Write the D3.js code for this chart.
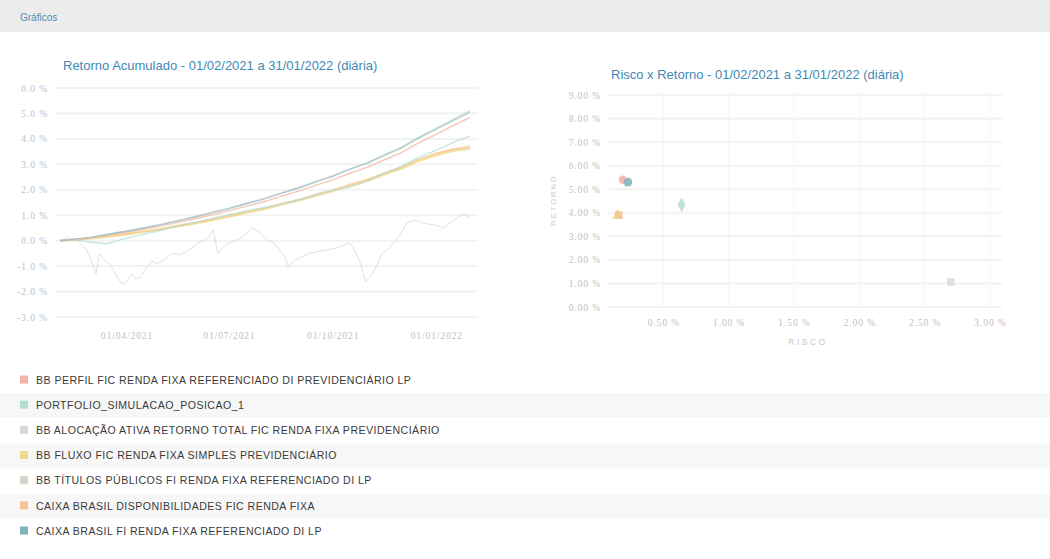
<!DOCTYPE html>
<html lang="pt">
<head>
    <meta charset="UTF-8">
    <title>Gráficos</title>
    <script src="https://d3js.org/d3.v7.min.js"></script>
    <style>
        body {
            margin: 0;
            background: #fff;
            font-family: "Liberation Sans", Arial, sans-serif;
        }
        svg { display: block; }
    </style>
</head>
<body>
<svg width="1050" height="559"></svg>
<script>
    // ---- data ----
    const fundNames = [
        "BB PERFIL FIC RENDA FIXA REFERENCIADO DI PREVIDENCIÁRIO LP",
        "PORTFOLIO_SIMULACAO_POSICAO_1",
        "BB ALOCAÇÃO ATIVA RETORNO TOTAL FIC RENDA FIXA PREVIDENCIÁRIO",
        "BB FLUXO FIC RENDA FIXA SIMPLES PREVIDENCIÁRIO",
        "BB TÍTULOS PÚBLICOS FI RENDA FIXA REFERENCIADO DI LP",
        "CAIXA BRASIL DISPONIBILIDADES FIC RENDA FIXA",
        "CAIXA BRASIL FI RENDA FIXA REFERENCIADO DI LP"
    ];
    const fundColors = ["#f3b3a4", "#b4ddd3", "#d9d9dd", "#f2d98a", "#cfd6c8", "#f6c293", "#7fb2bd"];
    const fundSymbols = ["circle", "diamond", "square", "triangle", "triangle-down", "square", "circle"];

    // semi-monthly dates for the smooth series
    const smoothDates = ["2021-02-01","2021-02-15","2021-03-01","2021-03-15","2021-04-01","2021-04-15",
        "2021-05-01","2021-05-15","2021-06-01","2021-06-15","2021-07-01","2021-07-15","2021-08-01",
        "2021-08-15","2021-09-01","2021-09-15","2021-10-01","2021-10-15","2021-11-01","2021-11-15",
        "2021-12-01","2021-12-15","2022-01-01","2022-01-15","2022-01-31"];

    const bbPerfil    = [0, 0.05, 0.12, 0.21, 0.33, 0.44, 0.57, 0.70, 0.86, 1.01, 1.18, 1.34, 1.53, 1.73, 1.95, 2.16, 2.39, 2.63, 2.89, 3.16, 3.46, 3.81, 4.18, 4.50, 4.85];
    const portfolio   = [0, 0.02, -0.06, -0.12, 0.10, 0.24, 0.40, 0.55, 0.72, 0.86, 1.02, 1.16, 1.30, 1.40, 1.60, 1.80, 1.98, 2.10, 2.34, 2.62, 2.92, 3.24, 3.56, 3.84, 4.12];
    const bbFluxo     = [0, 0.04, 0.09, 0.16, 0.25, 0.34, 0.44, 0.55, 0.68, 0.80, 0.94, 1.08, 1.24, 1.40, 1.58, 1.75, 1.94, 2.14, 2.36, 2.58, 2.83, 3.11, 3.36, 3.52, 3.62];
    const bbTitulos   = [0, 0.05, 0.13, 0.25, 0.38, 0.50, 0.64, 0.78, 0.95, 1.11, 1.28, 1.45, 1.66, 1.86, 2.09, 2.31, 2.55, 2.80, 3.07, 3.36, 3.67, 4.03, 4.42, 4.75, 5.12];
    const caixaDisp   = [0, 0.04, 0.10, 0.17, 0.26, 0.35, 0.46, 0.57, 0.70, 0.82, 0.97, 1.11, 1.27, 1.43, 1.61, 1.79, 1.98, 2.18, 2.40, 2.63, 2.88, 3.16, 3.42, 3.58, 3.70];
    const caixaDiLp   = [0, 0.06, 0.14, 0.24, 0.37, 0.48, 0.62, 0.76, 0.93, 1.08, 1.26, 1.43, 1.63, 1.84, 2.07, 2.29, 2.53, 2.78, 3.05, 3.33, 3.64, 4.00, 4.38, 4.70, 5.05];

    // the volatile fund, traced point by point
    const ativaDates = ["2021-02-01","2021-02-05","2021-02-08","2021-02-11","2021-02-15","2021-02-19","2021-02-24",
        "2021-02-28","2021-03-05","2021-03-08","2021-03-12","2021-03-17","2021-03-21","2021-03-26","2021-03-30",
        "2021-04-02","2021-04-06","2021-04-09","2021-04-13","2021-04-19","2021-04-24","2021-04-28","2021-05-03",
        "2021-05-07","2021-05-12","2021-05-18","2021-05-25","2021-05-29","2021-06-03","2021-06-08","2021-06-12",
        "2021-06-17","2021-06-21","2021-06-25","2021-06-30","2021-07-05","2021-07-11","2021-07-16","2021-07-21",
        "2021-07-28","2021-08-01","2021-08-05","2021-08-10","2021-08-14","2021-08-19","2021-08-23","2021-08-27",
        "2021-09-01","2021-09-05","2021-09-10","2021-09-15","2021-09-21","2021-09-27","2021-10-03","2021-10-09",
        "2021-10-16","2021-10-20","2021-10-25","2021-10-30","2021-11-02","2021-11-05","2021-11-10","2021-11-14",
        "2021-11-20","2021-11-26","2021-12-01","2021-12-05","2021-12-09","2021-12-14","2021-12-20","2021-12-26",
        "2022-01-01","2022-01-07","2022-01-12","2022-01-16","2022-01-20","2022-01-25","2022-01-31"];
    const bbAtiva = [0, 0.08, 0.15, 0.05, 0.1, -0.1, -0.3, -0.7, -1.3, -0.5, -0.75, -0.9, -1.2, -1.6, -1.7,
        -1.55, -1.3, -1.5, -1.45, -1.05, -0.8, -0.9, -0.8, -0.65, -0.5, -0.55, -0.4, -0.3, -0.1, 0.0, 0.1,
        0.4, -0.5, -0.3, -0.1, -0.05, 0.1, 0.25, 0.5, 0.35, 0.15, 0.0, -0.1, -0.3, -0.6, -1.05, -0.8,
        -0.7, -0.6, -0.5, -0.45, -0.4, -0.35, -0.3, -0.2, -0.1, -0.35, -0.8, -1.6, -1.45, -1.3, -0.9, -0.5,
        -0.3, 0.0, 0.3, 0.65, 0.75, 0.8, 0.7, 0.65, 0.6, 0.5, 0.65, 0.8, 0.9, 1.05, 0.9];

    const lineTicksY = [6, 5, 4, 3, 2, 1, 0, -1, -2, -3];
    const lineTicksX = ["2021-04-01", "2021-07-01", "2021-10-01", "2022-01-01"];

    // risk x return (risk %, return %)
    const riskValues   = [0.19, 0.64, 2.70, 0.15, 0.21, 0.16, 0.23];
    const returnValues = [5.40, 4.34, 1.06, 3.88, 5.35, 3.91, 5.30];
    const scatterTicksY = [9, 8, 7, 6, 5, 4, 3, 2, 1, 0];
    const scatterTicksX = [0.5, 1.0, 1.5, 2.0, 2.5, 3.0];

    const svg = d3.select("svg");
    const parse = d3.timeParse("%Y-%m-%d");

    function styleTicks(sel) {
        sel.selectAll("text")
            .attr("fill", "#c0c0c0")
            .attr("font-size", 9.5)
            .attr("letter-spacing", 0.9)
            .attr("font-family", "'Liberation Serif', serif");
    }

    // ---- page background ----
    svg.append("rect").attr("x", 0).attr("y", 0).attr("width", 1050).attr("height", 32).attr("fill", "#ececec");
    svg.append("text").attr("x", 20).attr("y", 21).attr("font-size", 10).attr("fill", "#4b8fb3").text("Gráficos");

    // ---- line chart ----
    const x1 = d3.scaleTime().domain([parse("2021-02-01"), parse("2022-02-07")]).range([60, 478]);
    const y1 = d3.scaleLinear().domain([-3, 6]).range([317, 88]);

    svg.append("text").attr("x", 63).attr("y", 70).attr("font-size", 13).attr("fill", "#3f8ab4")
        .text("Retorno Acumulado - 01/02/2021 a 31/01/2022 (diária)");

    const g1 = svg.append("g");
    g1.selectAll("line.grid").data(lineTicksY).join("line")
        .attr("x1", 56).attr("x2", 478)
        .attr("y1", d => y1(d)).attr("y2", d => y1(d))
        .attr("stroke", "#f2f2f2").attr("stroke-width", 2);

    g1.append("g").attr("transform", "translate(48,0)")
        .call(d3.axisLeft(y1).tickValues(lineTicksY).tickSize(0).tickPadding(0)
            .tickFormat(d => d.toFixed(1) + " %"))
        .call(g => g.select(".domain").remove())
        .call(styleTicks);

    g1.append("g").attr("transform", "translate(0,332)")
        .call(d3.axisBottom(x1).tickValues(lineTicksX.map(parse)).tickSize(0).tickPadding(0)
            .tickFormat(d3.timeFormat("%d/%m/%Y")))
        .call(g => g.select(".domain").remove())
        .call(styleTicks);

    const line = d3.line().x(d => x1(d[0])).y(d => y1(d[1]));
    const smoothSeries = [
        { vals: bbAtiva, dates: ativaDates, i: 2 },
        { vals: caixaDisp, dates: smoothDates, i: 5 },
        { vals: bbFluxo, dates: smoothDates, i: 3 },
        { vals: portfolio, dates: smoothDates, i: 1 },
        { vals: bbPerfil, dates: smoothDates, i: 0 },
        { vals: bbTitulos, dates: smoothDates, i: 4 },
        { vals: caixaDiLp, dates: smoothDates, i: 6 }
    ];
    g1.selectAll("path.series").data(smoothSeries).join("path")
        .attr("class", "series")
        .attr("fill", "none")
        .attr("stroke", d => fundColors[d.i])
        .attr("stroke-width", d => d.i === 5 || d.i === 3 ? 2.2 : (d.i === 2 ? 1 : 1.4))
        .attr("stroke-opacity", d => d.i === 6 ? 0.55 : (d.i === 2 ? 0.8 : 0.75))
        .attr("d", d => line(d.dates.map((t, k) => [parse(t), d.vals[k]])));

    // ---- scatter chart ----
    const x2 = d3.scaleLinear().domain([0, 3]).range([598, 990]);
    const y2 = d3.scaleLinear().domain([0, 9]).range([307, 95]);

    svg.append("text").attr("x", 611).attr("y", 79).attr("font-size", 13).attr("fill", "#3f8ab4")
        .text("Risco x Retorno - 01/02/2021 a 31/01/2022 (diária)");

    const g2 = svg.append("g");
    g2.selectAll("line.gy").data(scatterTicksY).join("line")
        .attr("x1", 608).attr("x2", 1002)
        .attr("y1", d => y2(d)).attr("y2", d => y2(d))
        .attr("stroke", "#f2f2f2").attr("stroke-width", 2);
    g2.selectAll("line.gx").data(scatterTicksX).join("line")
        .attr("y1", 92).attr("y2", 310)
        .attr("x1", d => x2(d)).attr("x2", d => x2(d))
        .attr("stroke", "#f6f6f6").attr("stroke-width", 1);

    g2.append("g").attr("transform", "translate(601,0)")
        .call(d3.axisLeft(y2).tickValues(scatterTicksY).tickSize(0).tickPadding(0)
            .tickFormat(d => d.toFixed(2) + " %"))
        .call(g => g.select(".domain").remove())
        .call(styleTicks);

    g2.append("g").attr("transform", "translate(0,319)")
        .call(d3.axisBottom(x2).tickValues(scatterTicksX).tickSize(0).tickPadding(0)
            .tickFormat(d => d.toFixed(2) + " %"))
        .call(g => g.select(".domain").remove())
        .call(styleTicks);

    svg.append("text").attr("x", 808).attr("y", 345).attr("text-anchor", "middle")
        .attr("font-size", 8.5).attr("letter-spacing", 2.5).attr("fill", "#c6c6c6").text("RISCO");
    svg.append("text").attr("transform", "translate(556,200) rotate(-90)").attr("text-anchor", "middle")
        .attr("font-size", 7.5).attr("letter-spacing", 2).attr("fill", "#cccccc").text("RETORNO");

    const symbolType = {
        "circle": d3.symbolCircle, "diamond": d3.symbolDiamond, "square": d3.symbolSquare,
        "triangle": d3.symbolTriangle, "triangle-down": d3.symbolTriangle
    };
    const order = [3, 5, 2, 4, 0, 6, 1];
    g2.selectAll("path.pt").data(order).join("path")
        .attr("class", "pt")
        .attr("transform", i => `translate(${x2(riskValues[i])},${y2(returnValues[i])})` +
            (fundSymbols[i] === "triangle-down" ? " rotate(180)" : ""))
        .attr("d", i => d3.symbol().type(symbolType[fundSymbols[i]]).size(fundSymbols[i] === "diamond" ? 60 : 56)())
        .attr("fill", i => fundColors[i])
        .attr("fill-opacity", 0.85);

    // ---- legend ----
    const legend = svg.append("g");
    const rowY = d3.scaleLinear().domain([0, 6]).range([380, 531]);
    legend.selectAll("rect.band").data([1, 3, 5]).join("rect")
        .attr("x", 0).attr("width", 1050)
        .attr("y", d => rowY(d) - 12).attr("height", 24)
        .attr("fill", "#f7f7f7");
    const rows = legend.selectAll("g.row").data(fundNames).join("g")
        .attr("transform", (d, i) => `translate(0,${rowY(i)})`);
    rows.append("rect").attr("x", 20).attr("y", -4.5).attr("width", 8).attr("height", 8)
        .attr("fill", (d, i) => fundColors[i]);
    rows.append("text").attr("x", 36).attr("y", 3.8).attr("font-size", 10.6)
        .attr("letter-spacing", 0.45)
        .attr("fill", "#3a3a3a").text(d => d);
</script>
</body>
</html>
